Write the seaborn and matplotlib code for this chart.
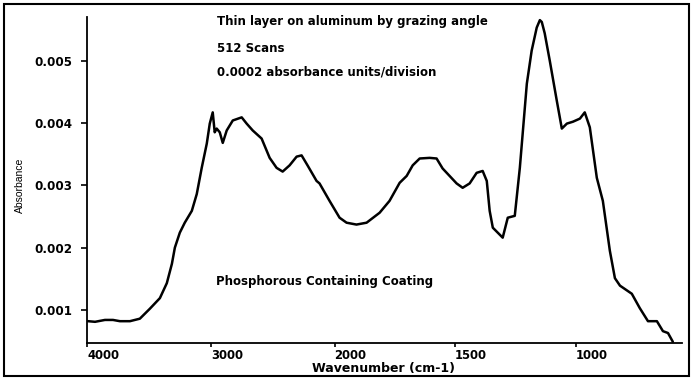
import numpy as np
import pandas as pd
import matplotlib
matplotlib.use("Agg")
import matplotlib.pyplot as plt
import seaborn as sns
from matplotlib.patches import Rectangle

# spectrum (wavenumber cm-1, absorbance)
wavenumber = [3992, 3935, 3855, 3790, 3734, 3653, 3573, 3492, 3411, 3355,
              3314, 3290, 3250, 3210, 3153, 3113, 3073, 3032, 3008, 2984,
              2968, 2952, 2927, 2903, 2871, 2822, 2750, 2710, 2661, 2589,
              2524, 2468, 2419, 2363, 2306, 2266, 2218, 2145, 2121, 2040,
              1979, 1950, 1909, 1867, 1813, 1772, 1730, 1701, 1676, 1647,
              1606, 1577, 1552, 1523, 1494, 1469, 1440, 1411, 1386, 1369,
              1357, 1344, 1303, 1282, 1253, 1232, 1203, 1183, 1162, 1149,
              1141, 1129, 1108, 1079, 1058, 1037, 1012, 983, 963, 942,
              913, 888, 859, 838, 817, 768, 735, 701, 664, 639, 618, 598]
absorbance = [0.00082, 0.00081, 0.00084, 0.00084, 0.00082, 0.00082, 0.00086, 0.00102, 0.00119, 0.00143,
              0.00174, 0.00200, 0.00224, 0.00240, 0.00259, 0.00286, 0.00328, 0.00367, 0.00399, 0.00417,
              0.00385, 0.00391, 0.00385, 0.00368, 0.00388, 0.00404, 0.00409, 0.00399, 0.00388, 0.00375,
              0.00344, 0.00328, 0.00322, 0.00332, 0.00346, 0.00348, 0.00332, 0.00307, 0.00303, 0.00275,
              0.00248, 0.00240, 0.00237, 0.00240, 0.00256, 0.00275, 0.00304, 0.00315, 0.00332, 0.00343,
              0.00344, 0.00343, 0.00327, 0.00315, 0.00303, 0.00296, 0.00303, 0.00320, 0.00323, 0.00307,
              0.00259, 0.00232, 0.00216, 0.00248, 0.00251, 0.00328, 0.00463, 0.00516, 0.00553, 0.00565,
              0.00562, 0.00544, 0.00500, 0.00436, 0.00391, 0.00399, 0.00402, 0.00407, 0.00417, 0.00393,
              0.00312, 0.00275, 0.00195, 0.00151, 0.00139, 0.00126, 0.00103, 0.00082, 0.00082, 0.00066, 0.00063, 0.00049]

x_ticks = [4000, 3000, 2000, 1500, 1000]
y_ticks = [0.001, 0.002, 0.003, 0.004, 0.005]

title_lines = ["Thin layer on aluminum by grazing angle",
               "512 Scans",
               "0.0002 absorbance units/division"]
sample_label = "Phosphorous Containing Coating"

df = pd.DataFrame({"Wavenumber": wavenumber, "Absorbance": absorbance})

sns.set_style("ticks")
plt.rcParams["font.family"] = ["DejaVu Sans"]
plt.rcParams["text.color"] = "black"
plt.rcParams["xtick.color"] = "black"
plt.rcParams["ytick.color"] = "black"
plt.rcParams["axes.edgecolor"] = "black"

# spectrometer axis: scale roughly doubles below 2000 cm-1
K = 1.95
def fwd(w):
    w = np.asarray(w, dtype=float)
    return np.where(w >= 2000, w, 2000 - K * (2000 - w))

def inv(u):
    u = np.asarray(u, dtype=float)
    return np.where(u >= 2000, u, 2000 - (2000 - u) / K)

fig = plt.figure(figsize=(6.92, 3.80), dpi=100)
ax = fig.add_axes([87 / 692, 1 - 343 / 380, 595 / 692, 326 / 380])

sns.lineplot(data=df, x="Wavenumber", y="Absorbance", sort=False,
             color="black", linewidth=1.8, ax=ax)

ax.set_xscale("function", functions=(fwd, inv))
ax.set_xlim(4000, 560)
ax.set_ylim(0.00047, 0.0057)
ax.set_xticks(x_ticks)
ax.set_xticklabels([str(t) for t in x_ticks], fontsize=8.4, fontweight="bold", ha="left")
ax.set_yticks(y_ticks)
ax.set_yticklabels([f"{t:.3f}" for t in y_ticks], fontsize=8.6, fontweight="bold")
ax.xaxis.set_minor_locator(matplotlib.ticker.NullLocator())
ax.tick_params(axis="x", length=3, width=1.2, pad=1)
ax.tick_params(axis="y", length=4, width=1.2, pad=6.5)
ax.set_xlabel("")
ax.set_ylabel("")
sns.despine(ax=ax)
for s in ["left", "bottom"]:
    ax.spines[s].set_linewidth(1.3)

fig.text(384 / 692, 1 - 362 / 380, "Wavenumber (cm-1)", ha="center", va="top",
         fontsize=9, fontweight="bold")
fig.text(20 / 692, 1 - 185 / 380, "Absorbance", rotation=90, ha="center", va="center",
         fontsize=7.5, family=["Liberation Sans Narrow", "Liberation Sans"])

for line, ypx in zip(title_lines, [22, 49, 72]):
    fig.text(217 / 692, 1 - ypx / 380, line, ha="left", va="center",
             fontsize=8.5, fontweight="bold")
fig.text(216 / 692, 1 - 281 / 380, sample_label, ha="left", va="center",
         fontsize=8.5, fontweight="bold")

fig.patches.append(Rectangle((4 / 692, 4 / 380), 685 / 692, 372 / 380,
                             transform=fig.transFigure, fill=False,
                             edgecolor="black", linewidth=1.5))

fig.savefig("out.png", dpi=100)
